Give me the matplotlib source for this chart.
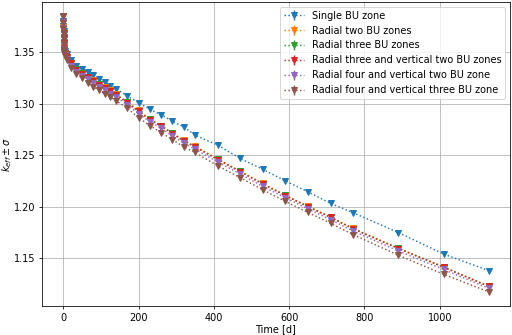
import matplotlib
matplotlib.use("Agg")
import matplotlib.pyplot as plt
import numpy as np

# burnup time steps [d]
time = [0, 0.25, 0.5, 0.75, 1, 1.5, 2, 3, 5, 10, 20, 35, 50, 65, 80, 95, 110, 125, 140,
        170, 200, 230, 260, 290, 320, 350, 410, 470, 530, 590, 650, 710, 770, 890, 1010, 1130]

k_single = [1.385, 1.380, 1.375, 1.370, 1.365, 1.360, 1.356, 1.353, 1.351, 1.348, 1.342,
            1.337, 1.3338, 1.3307, 1.3275, 1.3242, 1.321, 1.3175, 1.3145, 1.3075, 1.301,
            1.2945, 1.2893, 1.283, 1.2775, 1.2695, 1.2598, 1.2469, 1.2363, 1.2251, 1.2145,
            1.2033, 1.1942, 1.1750, 1.1542, 1.1381]
k_rad2 = [1.385, 1.3795, 1.374, 1.369, 1.364, 1.359, 1.3545, 1.3515, 1.3495, 1.3457, 1.3397,
          1.3337, 1.3297, 1.3262, 1.3228, 1.3193, 1.3158, 1.3128, 1.3093, 1.3018, 1.2935,
          1.2853, 1.2788, 1.2717, 1.2645, 1.2587, 1.2465, 1.2346, 1.2226, 1.2113, 1.2005,
          1.1901, 1.1790, 1.1598, 1.1417, 1.1230]
k_rad3 = [1.385, 1.3793, 1.3738, 1.3688, 1.3638, 1.3588, 1.3542, 1.3512, 1.3493, 1.3454,
          1.3394, 1.3334, 1.3294, 1.3258, 1.3223, 1.3188, 1.3153, 1.3123, 1.3088, 1.3013,
          1.2928, 1.2848, 1.2783, 1.2713, 1.2640, 1.2583, 1.2461, 1.2343, 1.2223, 1.2110,
          1.2002, 1.1899, 1.1788, 1.1597, 1.1416, 1.1229]
k_rad3_ax2 = [1.385, 1.379, 1.3735, 1.3685, 1.3635, 1.3585, 1.354, 1.351, 1.349, 1.345,
              1.339, 1.333, 1.329, 1.3255, 1.322, 1.3185, 1.315, 1.312, 1.3085, 1.301,
              1.2925, 1.2845, 1.278, 1.271, 1.2637, 1.258, 1.2458, 1.234, 1.222, 1.2108,
              1.200, 1.1897, 1.1786, 1.1595, 1.1414, 1.1227]
k_rad4_ax2 = [1.385, 1.3788, 1.3732, 1.368, 1.363, 1.358, 1.3532, 1.350, 1.3475, 1.3435,
              1.337, 1.331, 1.327, 1.3235, 1.3198, 1.3163, 1.3128, 1.3098, 1.3063, 1.299,
              1.2903, 1.2825, 1.276, 1.2688, 1.2617, 1.2558, 1.2436, 1.2318, 1.2198, 1.2087,
              1.198, 1.1875, 1.1765, 1.1572, 1.1392, 1.121]
k_rad4_ax3 = [1.385, 1.3785, 1.3728, 1.3675, 1.3625, 1.3575, 1.3525, 1.349, 1.346, 1.342,
              1.335, 1.329, 1.3245, 1.3205, 1.3165, 1.313, 1.3095, 1.3065, 1.303, 1.2955,
              1.2865, 1.2787, 1.2718, 1.2652, 1.258, 1.2527, 1.2398, 1.2282, 1.2165, 1.2052,
              1.1945, 1.184, 1.173, 1.153, 1.1346, 1.1175]

sigma = 0.0002

SERIES = [
    (k_single,   'Single BU zone'),
    (k_rad2,     'Radial two BU zones'),
    (k_rad3,     'Radial three BU zones'),
    (k_rad3_ax2, 'Radial three and vertical two BU zones'),
    (k_rad4_ax2, 'Radial four and vertical two BU zone'),
    (k_rad4_ax3, 'Radial four and vertical three BU zone'),
]

# figure was drawn larger and scaled down, so render at a low dpi
fig = plt.figure(figsize=(512 / 70, 335 / 70), dpi=70)
ax = fig.add_axes([0.082, 0.087, 0.914, 0.907])

for values, label in SERIES:
    ax.errorbar(time, values, yerr=sigma, fmt='v:', label=label)

ax.set_xlabel('Time [d]', labelpad=1)
ax.set_ylabel('$k_{eff} \\pm \\sigma$', labelpad=0)
ax.grid(True)
ax.legend(loc='upper right')

fig.savefig('out.png', dpi=70)
